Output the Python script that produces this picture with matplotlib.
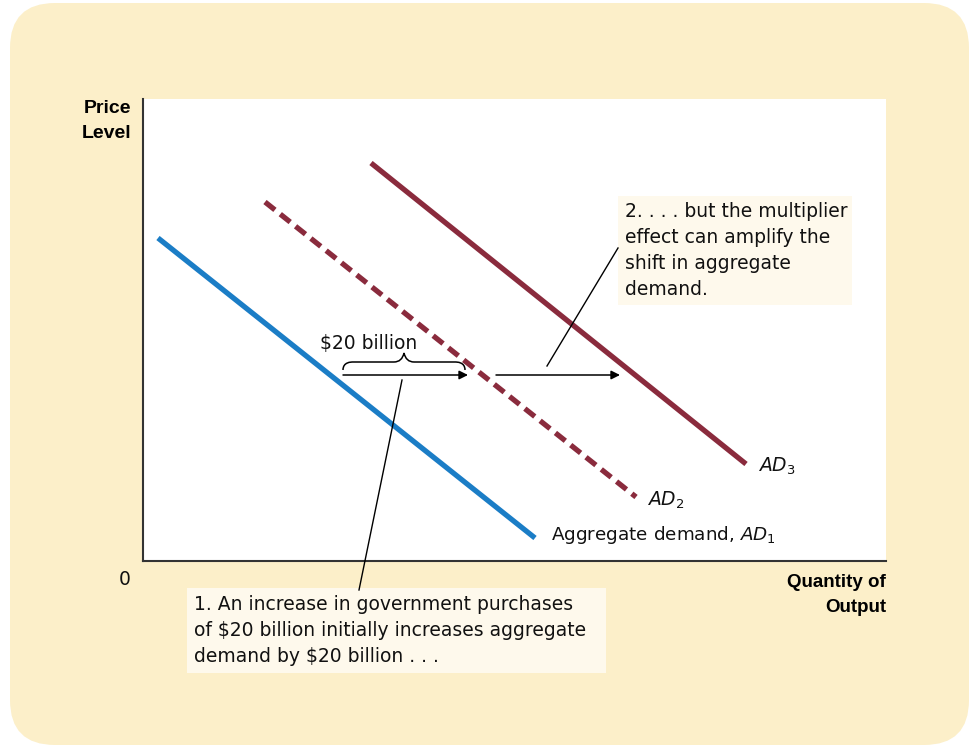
import matplotlib
matplotlib.use("Agg")
import matplotlib.pyplot as plt
from matplotlib.patches import FancyBboxPatch, Rectangle, PathPatch
from matplotlib.path import Path

plt.rcParams['mathtext.fontset'] = 'dejavusans'

# ---- data (quantity of output, price level) in chart units ----
ad1_q = [15, 392]
ad1_p = [323, 23]
ad2_q = [122, 493]
ad2_p = [359, 64]
ad3_q = [228, 603]
ad3_p = [398, 97]
shift_p = 186
shift1_q = [200, 325]
shift2_q = [353, 477]

W, H = 970, 746
fig = plt.figure(figsize=(W / 100, H / 100), dpi=100)
fig.patch.set_facecolor('white')

PANEL = '#FCEFC9'
BOX = '#FEF9EC'
BLUE = '#1B7DC6'
MAROON = '#8A2B3D'
AXC = '#333333'
FONT = 'DejaVu Sans'
BFONT = 'Liberation Sans'

# background overlay in pixel coordinates
bg = fig.add_axes([0, 0, 1, 1], zorder=0)
bg.set_xlim(0, W)
bg.set_ylim(H, 0)
bg.axis('off')
rad = 45
px0, py0, px1, py1 = 10, 3, 969, 745
bg.add_patch(FancyBboxPatch((px0 + rad, py0 + rad), (px1 - px0) - 2 * rad, (py1 - py0) - 2 * rad,
                            boxstyle='round,pad=%d' % rad, fc=PANEL, ec='none'))

# main chart axes (pixel box 143..886 x 99..561)
L, R, T, B = 143, 886, 99, 561
ax = fig.add_axes([L / W, (H - B) / H, (R - L) / W, (B - T) / H], zorder=1)
ax.set_xlim(0, R - L)
ax.set_ylim(0, B - T)
ax.set_facecolor('white')
for s in ['top', 'right']:
    ax.spines[s].set_visible(False)
for s in ['left', 'bottom']:
    ax.spines[s].set_color(AXC)
    ax.spines[s].set_linewidth(1.5)
ax.set_xticks([])
ax.set_yticks([])

ax.plot(ad1_q, ad1_p, color=BLUE, lw=3.8, solid_capstyle='butt')
ax.plot(ad2_q, ad2_p, color=MAROON, lw=3.8, linestyle=(0, (2.4, 1.3)), dash_capstyle='butt')
ax.plot(ad3_q, ad3_p, color=MAROON, lw=3.8, solid_capstyle='butt')

for q in (shift1_q, shift2_q):
    ax.annotate('', xy=(q[1], shift_p), xytext=(q[0], shift_p),
                arrowprops=dict(arrowstyle='-|>', color='black', lw=1.1,
                                mutation_scale=13, shrinkA=0, shrinkB=0))

# overlay for annotations, pixel coordinates
ov = fig.add_axes([0, 0, 1, 1], zorder=2)
ov.set_xlim(0, W)
ov.set_ylim(H, 0)
ov.axis('off')
ov.patch.set_alpha(0)

# brace
bx0, bx1, btip, by_end, by_top, by_tip = 343, 465, 404, 370, 362, 353
verts = [(bx0, by_end), (bx0, by_top), (bx0 + 8, by_top), (bx0 + 10, by_top),
         (btip - 10, by_top), (btip - 2, by_top), (btip, by_tip),
         (btip + 2, by_top), (btip + 10, by_top),
         (bx1 - 10, by_top), (bx1 - 8, by_top), (bx1, by_top), (bx1, by_end)]
codes = [Path.MOVETO, Path.CURVE4, Path.CURVE4, Path.CURVE4,
         Path.LINETO, Path.CURVE3, Path.CURVE3, Path.CURVE3, Path.CURVE3,
         Path.LINETO, Path.CURVE4, Path.CURVE4, Path.CURVE4]
ov.add_patch(PathPatch(Path(verts, codes), fc='none', ec='black', lw=1.1))
ov.text(369, 349, '$20 billion', fontsize=13.5, family=FONT, ha='center', va='baseline',
        color='#111111')

# leader lines
ov.plot([402, 359], [380, 590], color='black', lw=1.0)
ov.plot([547, 618], [366, 248], color='black', lw=1.0)

# annotation boxes
ov.add_patch(Rectangle((618, 196), 234, 109, fc=BOX, ec='none'))
for i, s in enumerate(['2. . . . but the multiplier', 'effect can amplify the',
                       'shift in aggregate', 'demand.']):
    ov.text(625, 217 + 26 * i, s, fontsize=13.5, family=FONT, va='baseline', color='#111111')

ov.add_patch(Rectangle((187, 588), 419, 85, fc=BOX, ec='none'))
for i, s in enumerate(['1. An increase in government purchases',
                       'of $20 billion initially increases aggregate',
                       'demand by $20 billion . . .']):
    ov.text(194, 610 + 26 * i, s, fontsize=13.5, family=FONT, va='baseline', color='#111111')

# curve labels
ov.text(758, 472, r'$\mathit{AD}_{\mathrm{3}}$', fontsize=13.5, va='baseline', color='#111111')
ov.text(647, 506, r'$\mathit{AD}_{\mathrm{2}}$', fontsize=13.5, va='baseline', color='#111111')
ov.text(551, 540, r'Aggregate demand, $\mathit{AD}_{\mathrm{1}}$', fontsize=13.2,
        family=FONT, va='baseline', color='#111111')

# axis labels
ov.text(125, 585, '0', fontsize=13.5, family=FONT, ha='center', va='baseline', color='#111111')
ov.text(131, 113, 'Price', fontsize=14, family=BFONT, weight='bold', ha='right', va='baseline')
ov.text(131, 138, 'Level', fontsize=14, family=BFONT, weight='bold', ha='right', va='baseline')
ov.text(886, 587, 'Quantity of', fontsize=13.5, family=BFONT, weight='bold', ha='right', va='baseline')
ov.text(886, 612, 'Output', fontsize=13.5, family=BFONT, weight='bold', ha='right', va='baseline')

fig.savefig('out.png', dpi=100, facecolor=fig.get_facecolor())
